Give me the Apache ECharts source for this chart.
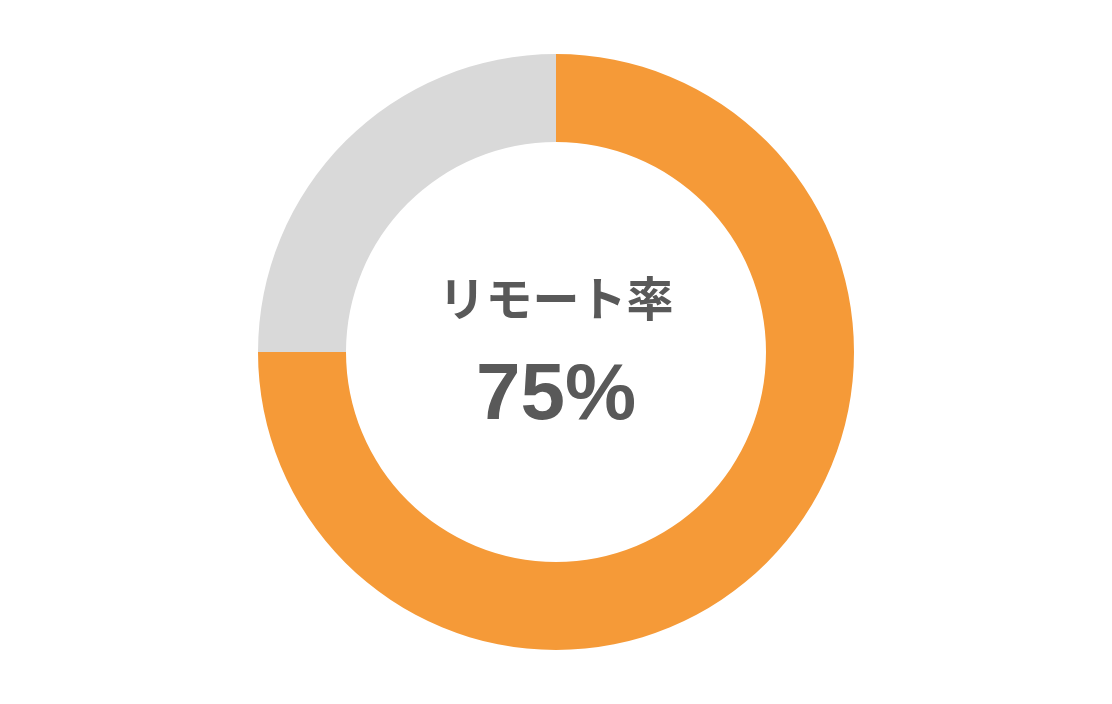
<!DOCTYPE html>
<html>
<head>
<meta charset="utf-8">
<script src="https://cdn.jsdelivr.net/npm/echarts@6/dist/echarts.min.js"></script>
<style>html,body{margin:0;padding:0;background:#fff}#c{width:1112px;height:704px}</style>
</head>
<body>
<div id="c"></div>
<script>
const categories = ['リモート', 'その他'];
const values = [75, 25];
const labelTitle = 'リモート率';
const labelValue = '75%';
const colors = ['#F59A38', '#D9D9D9'];

const chart = echarts.init(document.getElementById('c'));
chart.setOption({
  animation: false,
  backgroundColor: '#ffffff',
  series: [{
    type: 'pie',
    center: [556, 352],
    radius: [210, 298],
    startAngle: 90,
    clockwise: true,
    silent: true,
    label: { show: false },
    labelLine: { show: false },
    itemStyle: { borderWidth: 0 },
    data: categories.map((n, i) => ({ name: n, value: values[i], itemStyle: { color: colors[i] } }))
  }],
  graphic: [
    {
      type: 'text', left: 'center', top: 275,
      style: { text: labelTitle, fill: '#595959', font: 'bold 47px "Noto Sans CJK JP", sans-serif', textAlign: 'center' }
    },
    {
      type: 'text', left: 'center', top: 357,
      style: { text: labelValue, fill: '#595959', font: 'bold 80px "Liberation Sans", Arial, sans-serif', textAlign: 'center' }
    }
  ]
});
</script>
</body>
</html>
